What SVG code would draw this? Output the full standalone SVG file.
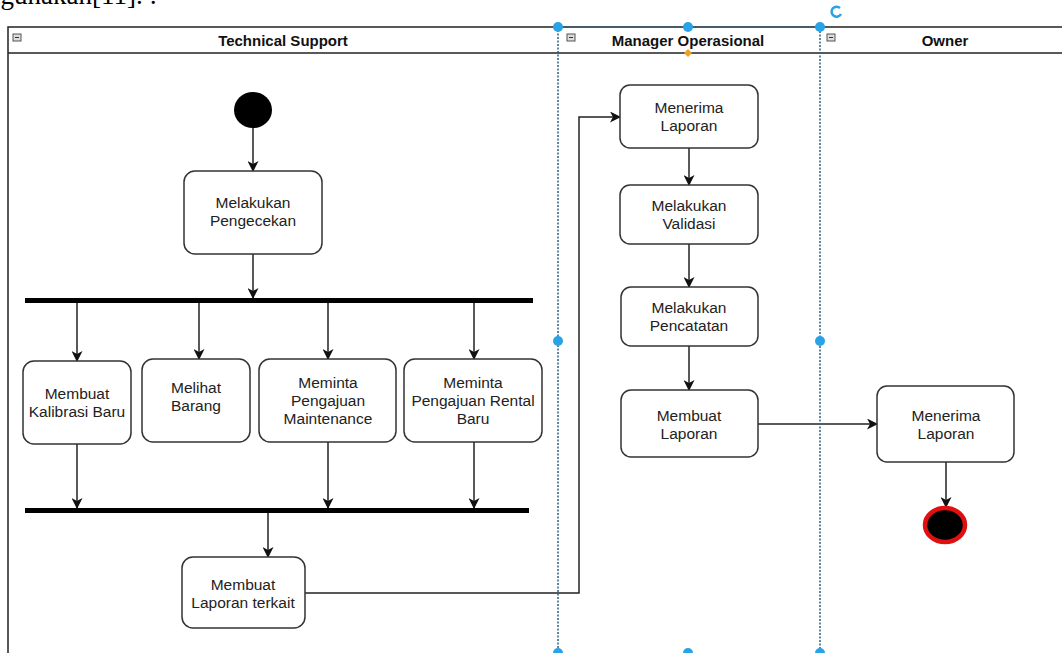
<svg xmlns="http://www.w3.org/2000/svg" width="1062" height="653" viewBox="0 0 1062 653">
<style>
.lane{fill:none;stroke:#222;stroke-width:1.5}
.hdr{font-family:"Liberation Sans",Arial,sans-serif;font-size:15px;font-weight:bold;fill:#111;text-anchor:middle}
.lbl{font-family:"Liberation Sans",Arial,sans-serif;font-size:15.5px;fill:#222;text-anchor:middle}
.act{fill:#fff;stroke:#333;stroke-width:1.5}
.bar{fill:#000}
.con{fill:none;stroke:#222;stroke-width:1.5}
.sel{fill:none;stroke:#2e5f80;stroke-width:1.5;stroke-dasharray:2 1.5}
.hdl{fill:#29a3e6}
.mini{fill:#ddd;stroke:#555;stroke-width:1}
</style>
<defs>
<marker id="arr" markerWidth="11" markerHeight="11" refX="10" refY="5.5" orient="auto" markerUnits="userSpaceOnUse">
<path d="M0,0 L11,5.5 L0,11 L3,5.5 Z" fill="#111"/>
</marker>
</defs>
<rect width="1062" height="653" fill="#fff"/>
<text x="157" y="4" text-anchor="end" font-family="Liberation Serif,serif" font-size="27" fill="#000">digunakan[11]. :</text>
<g id="pool">
<rect x="8" y="27" width="1060" height="640" class="lane"/>
<line x1="8" y1="53" x2="1062" y2="53" class="lane"/>
<rect x="13" y="34" width="8" height="7" class="mini"/><line x1="15" y1="37.5" x2="19" y2="37.5" stroke="#333"/>
<rect x="567" y="34" width="8" height="7" class="mini"/><line x1="569" y1="37.5" x2="573" y2="37.5" stroke="#333"/>
<rect x="827" y="34" width="8" height="7" class="mini"/><line x1="829" y1="37.5" x2="833" y2="37.5" stroke="#333"/>
<text x="283" y="46" class="hdr">Technical Support</text>
<text x="688" y="46" class="hdr">Manager Operasional</text>
<text x="945" y="46" class="hdr">Owner</text>
</g>
<g id="connectors">
<line x1="253" y1="128" x2="253" y2="171" class="con" marker-end="url(#arr)"/>
<line x1="253" y1="254" x2="253" y2="298" class="con" marker-end="url(#arr)"/>
<line x1="77" y1="302" x2="77" y2="361" class="con" marker-end="url(#arr)"/>
<line x1="199" y1="302" x2="199" y2="359" class="con" marker-end="url(#arr)"/>
<line x1="328" y1="302" x2="328" y2="359" class="con" marker-end="url(#arr)"/>
<line x1="474" y1="302" x2="474" y2="359" class="con" marker-end="url(#arr)"/>
<line x1="77" y1="444" x2="77" y2="508" class="con" marker-end="url(#arr)"/>
<line x1="328" y1="442" x2="328" y2="508" class="con" marker-end="url(#arr)"/>
<line x1="474" y1="442" x2="474" y2="508" class="con" marker-end="url(#arr)"/>
<line x1="268" y1="512" x2="268" y2="557" class="con" marker-end="url(#arr)"/>
<polyline points="305,593 579,593 579,117 620,117" class="con" marker-end="url(#arr)"/>
<line x1="689" y1="148" x2="689" y2="185" class="con" marker-end="url(#arr)"/>
<line x1="689" y1="244" x2="689" y2="287" class="con" marker-end="url(#arr)"/>
<line x1="689" y1="346" x2="689" y2="390" class="con" marker-end="url(#arr)"/>
<line x1="758" y1="424" x2="877" y2="424" class="con" marker-end="url(#arr)"/>
<line x1="946" y1="462" x2="946" y2="507" class="con" marker-end="url(#arr)"/>
</g>
<g id="start"><ellipse cx="253" cy="110" rx="19" ry="18" fill="#000"/></g>
<g id="n-pengecekan"><rect x="184" y="171" width="138" height="83" rx="11" class="act"/>
<text x="253" y="208" class="lbl">Melakukan</text><text x="253" y="226" class="lbl">Pengecekan</text></g>
<g id="fork1"><rect x="25" y="298" width="508" height="5" class="bar"/></g>
<g id="n-kalibrasi"><rect x="23" y="361" width="108" height="83" rx="11" class="act"/>
<text x="77" y="399" class="lbl">Membuat</text><text x="77" y="417" class="lbl">Kalibrasi Baru</text></g>
<g id="n-barang"><rect x="142" y="359" width="108" height="83" rx="11" class="act"/>
<text x="196" y="393" class="lbl">Melihat</text><text x="196" y="411" class="lbl">Barang</text></g>
<g id="n-maintenance"><rect x="259" y="359" width="137" height="83" rx="11" class="act"/>
<text x="328" y="388" class="lbl">Meminta</text><text x="328" y="406" class="lbl">Pengajuan</text><text x="328" y="424" class="lbl">Maintenance</text></g>
<g id="n-rental"><rect x="404" y="359" width="138" height="83" rx="11" class="act"/>
<text x="473" y="388" class="lbl">Meminta</text><text x="473" y="406" class="lbl">Pengajuan Rental</text><text x="473" y="424" class="lbl">Baru</text></g>
<g id="join1"><rect x="25" y="508" width="504" height="5" class="bar"/></g>
<g id="n-laporan-terkait"><rect x="182" y="557" width="123" height="71" rx="11" class="act"/>
<text x="243" y="590" class="lbl">Membuat</text><text x="243" y="608" class="lbl">Laporan terkait</text></g>
<g id="n-mo-menerima"><rect x="620" y="85" width="138" height="63" rx="10" class="act"/>
<text x="689" y="113" class="lbl">Menerima</text><text x="689" y="131" class="lbl">Laporan</text></g>
<g id="n-validasi"><rect x="620" y="185" width="138" height="59" rx="10" class="act"/>
<text x="689" y="211" class="lbl">Melakukan</text><text x="689" y="229" class="lbl">Validasi</text></g>
<g id="n-pencatatan"><rect x="621" y="287" width="137" height="59" rx="10" class="act"/>
<text x="689" y="313" class="lbl">Melakukan</text><text x="689" y="331" class="lbl">Pencatatan</text></g>
<g id="n-membuat-laporan"><rect x="621" y="390" width="137" height="67" rx="10" class="act"/>
<text x="689" y="421" class="lbl">Membuat</text><text x="689" y="439" class="lbl">Laporan</text></g>
<g id="n-owner-menerima"><rect x="877" y="386" width="137" height="76" rx="10" class="act"/>
<text x="946" y="421" class="lbl">Menerima</text><text x="946" y="439" class="lbl">Laporan</text></g>
<g id="end"><ellipse cx="945" cy="525" rx="20" ry="17" fill="#000" stroke="#e01010" stroke-width="4.5"/></g>
<g id="selection">
<rect x="558" y="27" width="262" height="640" class="sel"/>
<circle cx="558" cy="27" r="5" class="hdl"/><circle cx="688" cy="27" r="5" class="hdl"/><circle cx="820" cy="27" r="5" class="hdl"/>
<circle cx="558" cy="341" r="5" class="hdl"/><circle cx="820" cy="341" r="5" class="hdl"/>
<circle cx="558" cy="653" r="5" class="hdl"/><circle cx="688" cy="653" r="5" class="hdl"/><circle cx="820" cy="653" r="5" class="hdl"/>
<path d="M688,49 L692,53 L688,57 L684,53 Z" fill="#f0a020"/>
<path d="M840,8 A5,5 0 1 0 841,14" fill="none" stroke="#29a3e6" stroke-width="2.5"/>
</g>
</svg>
